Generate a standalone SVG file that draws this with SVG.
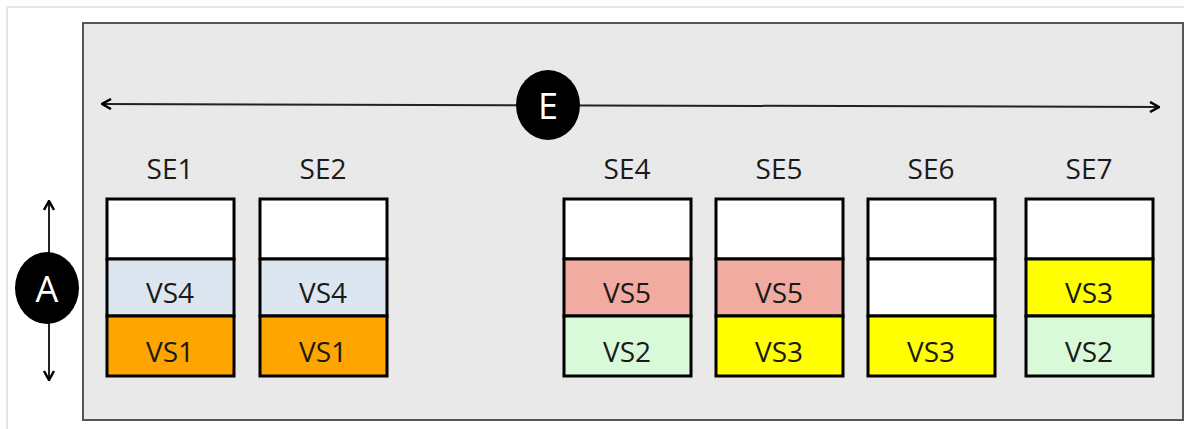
<svg xmlns="http://www.w3.org/2000/svg" width="1184" height="429" viewBox="0 0 1184 429">
<style>
text{font-family:"Open Sans","Noto Sans","Liberation Sans",sans-serif;font-size:28px;fill:#1a1a1a;text-anchor:middle}
.cell{stroke:#000;stroke-width:3}
.w{fill:#fff}.b{fill:#dce6f1}.o{fill:#ffa500}.r{fill:#f1aba0}.g{fill:#d8fad8}.y{fill:#ffff00}
.badge{fill:#000}
.bt{fill:#fff;font-size:36px}
.conn{stroke:#222;stroke-width:2;fill:none}
</style>
<defs>
<marker id="ah" viewBox="0 0 12 12" refX="11" refY="6" markerWidth="12" markerHeight="12" markerUnits="userSpaceOnUse" orient="auto-start-reverse">
<polyline points="2,1 11,6 2,11" fill="none" stroke="#000" stroke-width="2.5"/>
</marker>
</defs>
<rect x="0" y="0" width="1184" height="429" fill="#fff"/>
<rect x="7" y="7" width="1190" height="440" fill="#fff" stroke="#e6e6e6" stroke-width="2"/>
<rect id="panel" x="83" y="23" width="1100" height="397" fill="#e9e9e9" stroke="#555" stroke-width="2"/>
<g id="connectors">
<line class="conn" x1="102" y1="104" x2="1159" y2="107" marker-start="url(#ah)" marker-end="url(#ah)"/>
<line class="conn" x1="49" y1="201" x2="49" y2="380" marker-start="url(#ah)" marker-end="url(#ah)"/>
</g>
<g id="E"><ellipse class="badge" cx="548" cy="105" rx="32" ry="35"/><text class="bt" x="548" y="119">E</text></g>
<g id="A"><ellipse class="badge" cx="47" cy="288" rx="32" ry="36"/><text class="bt" x="47" y="302">A</text></g>
<g id="SE1">
<text x="170" y="179">SE1</text>
<rect class="cell w" x="107" y="199" width="127" height="60"/>
<rect class="cell b" x="107" y="259" width="127" height="57"/>
<rect class="cell o" x="107" y="316" width="127" height="60"/>
<text x="170" y="303">VS4</text><text x="170" y="362">VS1</text>
</g>
<g id="SE2">
<text x="323" y="179">SE2</text>
<rect class="cell w" x="260" y="199" width="127" height="60"/>
<rect class="cell b" x="260" y="259" width="127" height="57"/>
<rect class="cell o" x="260" y="316" width="127" height="60"/>
<text x="323" y="303">VS4</text><text x="323" y="362">VS1</text>
</g>
<g id="SE4">
<text x="627" y="179">SE4</text>
<rect class="cell w" x="564" y="199" width="127" height="60"/>
<rect class="cell r" x="564" y="259" width="127" height="57"/>
<rect class="cell g" x="564" y="316" width="127" height="60"/>
<text x="627" y="303">VS5</text><text x="627" y="362">VS2</text>
</g>
<g id="SE5">
<text x="779" y="179">SE5</text>
<rect class="cell w" x="716" y="199" width="127" height="60"/>
<rect class="cell r" x="716" y="259" width="127" height="57"/>
<rect class="cell y" x="716" y="316" width="127" height="60"/>
<text x="779" y="303">VS5</text><text x="779" y="362">VS3</text>
</g>
<g id="SE6">
<text x="931" y="179">SE6</text>
<rect class="cell w" x="868" y="199" width="127" height="60"/>
<rect class="cell w" x="868" y="259" width="127" height="57"/>
<rect class="cell y" x="868" y="316" width="127" height="60"/>
<text x="931" y="362">VS3</text>
</g>
<g id="SE7">
<text x="1089" y="179">SE7</text>
<rect class="cell w" x="1026" y="199" width="127" height="60"/>
<rect class="cell y" x="1026" y="259" width="127" height="57"/>
<rect class="cell g" x="1026" y="316" width="127" height="60"/>
<text x="1089" y="303">VS3</text><text x="1089" y="362">VS2</text>
</g>
</svg>
